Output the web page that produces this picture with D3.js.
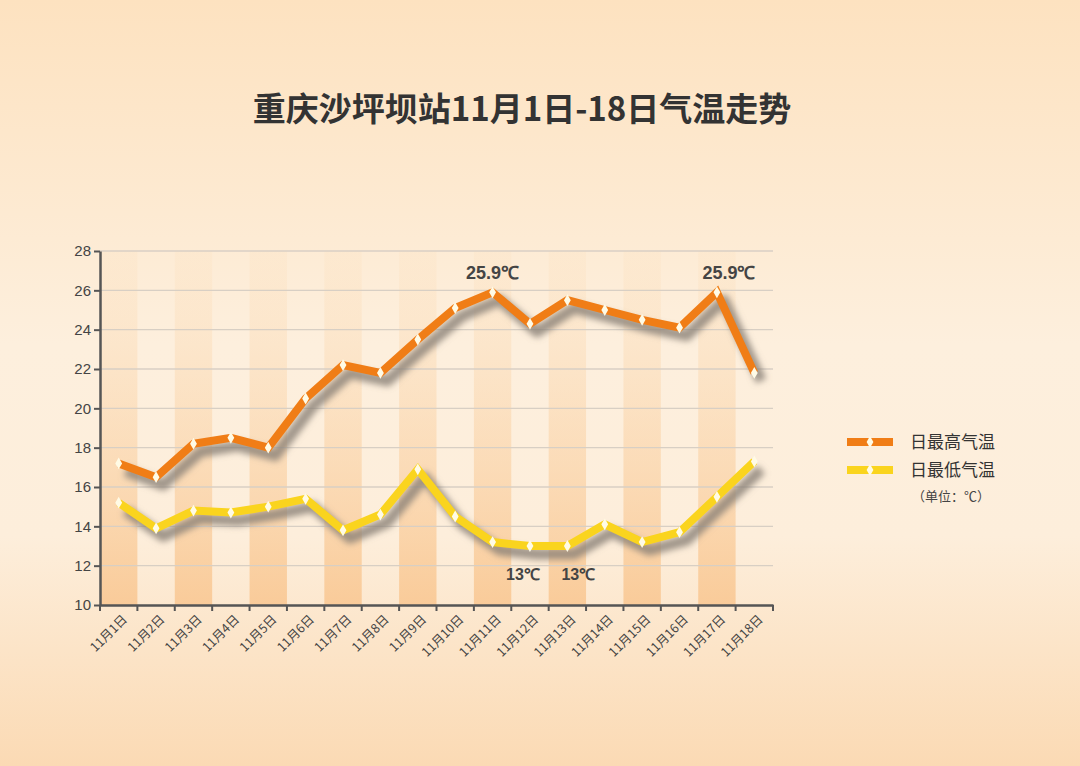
<!DOCTYPE html><html><head><meta charset="utf-8"><script src="https://cdn.jsdelivr.net/npm/d3@7/dist/d3.min.js"></script>
<style>body{margin:0}svg{display:block}</style></head><body><svg id="c" width="1080" height="766"></svg>
<script>
const categories=["11月1日","11月2日","11月3日","11月4日","11月5日","11月6日","11月7日","11月8日","11月9日","11月10日","11月11日","11月12日","11月13日","11月14日","11月15日","11月16日","11月17日","11月18日"];
const highs=[17.2,16.5,18.2,18.5,18.0,20.5,22.2,21.8,23.5,25.1,25.9,24.3,25.5,25.0,24.5,24.1,25.9,21.8];
const lows=[15.2,13.9,14.8,14.7,15.0,15.4,13.8,14.6,16.9,14.5,13.2,13.0,13.0,14.1,13.2,13.7,15.5,17.3];
const yTicks=[10,12,14,16,18,20,22,24,26,28];
const seriesNames=["日最高气温","日最低气温"];
const annotations=[{s:0,i:10,t:"25.9℃",dx:0},{s:0,i:16,t:"25.9℃",dx:12},{s:1,i:11,t:"13℃",dx:-7},{s:1,i:12,t:"13℃",dx:11}];

const svg=d3.select("#c");
const defs=svg.append("defs");
const bg=defs.append("linearGradient").attr("id","bg").attr("x1",0).attr("y1",0).attr("x2",0).attr("y2",1);
[[0,"#fde2c0"],[0.45,"#fdefdd"],[0.7,"#fdeedb"],[1,"#fbdab4"]].forEach(s=>bg.append("stop").attr("offset",s[0]).attr("stop-color",s[1]));
const bd=defs.append("linearGradient").attr("id","band").attr("x1",0).attr("y1",0).attr("x2",0).attr("y2",1);
[[0,"#fbd9b0",0.15],[1,"#f9c690",0.85]].forEach(s=>bd.append("stop").attr("offset",s[0]).attr("stop-color",s[1]).attr("stop-opacity",s[2]));
const f=defs.append("filter").attr("id","sh").attr("x","-10%").attr("y","-10%").attr("width","130%").attr("height","130%");
f.append("feGaussianBlur").attr("stdDeviation",3);
svg.append("rect").attr("width",1080).attr("height",766).attr("fill","url(#bg)");

svg.append("text").attr("x",522).attr("y",121).attr("text-anchor","middle").attr("font-family","Noto Sans CJK SC").attr("font-weight","bold").attr("font-size",33).attr("fill","#333").text("重庆沙坪坝站11月1日-18日气温走势");

const L=100,R=773,T=251,B=605;
const x=d3.scaleBand().domain(categories).range([L,R]);
const y=d3.scaleLinear().domain([10,28]).range([B,T]);
const cx=d=>x(d)+x.bandwidth()/2;

svg.selectAll(".band").data(categories.filter((d,i)=>i%2==0)).join("rect").attr("x",d=>x(d)).attr("y",T).attr("width",x.bandwidth()).attr("height",B-T).attr("fill","url(#band)");
svg.selectAll(".grid").data(yTicks.slice(1)).join("line").attr("x1",L).attr("x2",R).attr("y1",d=>y(d)).attr("y2",d=>y(d)).attr("stroke","#d8cfc4").attr("stroke-width",1.3);

const ya=svg.append("g").attr("transform",`translate(${L},0)`).call(d3.axisLeft(y).tickValues(yTicks).tickSize(6).tickSizeOuter(0));
ya.selectAll("text").attr("font-family","Liberation Sans").attr("font-size",15).attr("fill","#444");
const xa=svg.append("g").attr("transform",`translate(0,${B})`).call(d3.axisBottom(x).tickSize(0).tickSizeOuter(0));
xa.selectAll(".tick text").attr("font-family","Noto Sans CJK SC").attr("font-size",12.5).attr("fill","#444").attr("text-anchor","end").attr("transform","translate(4,10) rotate(-45)").attr("dy","0.35em");
svg.append("g").selectAll("line").data(d3.range(19)).join("line").attr("x1",i=>L+i*x.bandwidth()).attr("x2",i=>L+i*x.bandwidth()).attr("y1",B).attr("y2",B+6).attr("stroke","#555").attr("stroke-width",2);
svg.selectAll(".domain").attr("stroke","#555").attr("stroke-width",2.5);
ya.selectAll(".tick line").attr("stroke","#555").attr("stroke-width",2);

const line=d3.line().x((d,i)=>cx(categories[i])).y(d=>y(d));
const colors=["#f07d16","#fad41e"];
[highs,lows].forEach((s,k)=>{
  svg.append("path").attr("d",line(s)).attr("transform","translate(7,8)").attr("fill","none").attr("stroke","#8a7f76").attr("stroke-opacity",0.8).attr("stroke-width",11).attr("filter","url(#sh)").attr("stroke-linejoin","round");
});
[highs,lows].forEach((s,k)=>{
  svg.append("path").attr("d",line(s)).attr("fill","none").attr("stroke",colors[k]).attr("stroke-width",8);
  svg.append("g").selectAll("path").data(s).join("path").attr("d",d3.symbol(d3.symbolDiamond,40)).attr("transform",(d,i)=>`translate(${cx(categories[i])},${y(d)})`).attr("fill","#fffbe6");
});
annotations.forEach(a=>{
  const v=(a.s?lows:highs)[a.i];
  svg.append("text").attr("x",cx(categories[a.i])+a.dx).attr("y",a.s?y(v)+34:y(v)-13).attr("text-anchor","middle").attr("font-family","Liberation Sans").attr("font-weight","bold").attr("font-size",a.s?16:18).attr("fill","#444").text(a.t);
});
seriesNames.forEach((n,k)=>{
  const yy=442+k*28;
  svg.append("line").attr("x1",847).attr("x2",893).attr("y1",yy).attr("y2",yy).attr("stroke",colors[k]).attr("stroke-width",8);
  svg.append("path").attr("d",d3.symbol(d3.symbolDiamond,40)).attr("transform",`translate(870,${yy})`).attr("fill","#fffbe6");
  svg.append("text").attr("x",910).attr("y",yy+6).attr("font-family","Noto Sans CJK SC").attr("font-size",17).attr("fill","#333").text(n);
});
svg.append("text").attr("x",912).attr("y",501).attr("font-family","Noto Sans CJK SC").attr("font-size",13).attr("fill","#444").text("（单位：℃）");
</script></body></html>
